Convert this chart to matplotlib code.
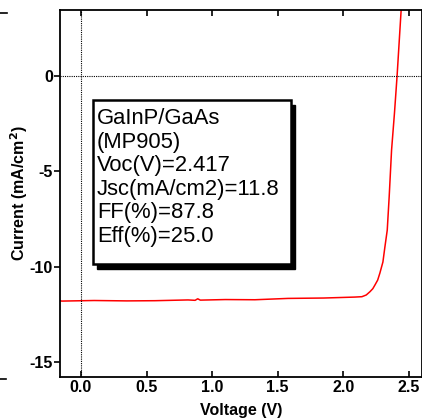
import matplotlib.pyplot as plt
from matplotlib.patches import Rectangle
from matplotlib.lines import Line2D

# J-V curve
voltage = [-0.16, -0.147, 0.10, 0.35, 0.564, 0.816, 0.87, 0.89, 0.91, 1.10, 1.326,
           1.578, 1.85, 2.088, 2.142, 2.175, 2.203, 2.225, 2.241, 2.262, 2.279,
           2.302, 2.317, 2.335, 2.350, 2.368, 2.390, 2.410, 2.441, 2.45]
current = [-11.78, -11.80, -11.77, -11.79, -11.78, -11.74, -11.76, -11.68, -11.75,
           -11.72, -11.73, -11.66, -11.64, -11.59, -11.57, -11.48, -11.31, -11.15,
           -10.96, -10.70, -10.33, -9.75, -8.97, -8.08, -6.30, -3.88, -1.95, 0.0,
           3.46, 4.6]

xticks = [0.0, 0.5, 1.0, 1.5, 2.0, 2.5]
yticks = [0, -5, -10, -15]
info = ['GaInP/GaAs', '(MP905)', 'Voc(V)=2.417', 'Jsc(mA/cm2)=11.8',
        'FF(%)=87.8', 'Eff(%)=25.0']

plt.rcParams['font.family'] = ['Liberation Sans', 'DejaVu Sans']

W, H = 422, 418
fig = plt.figure(figsize=(W / 100, H / 100), dpi=100)
ax = fig.add_axes([60 / W, 41 / H, 1 - 60 / W, (377 - 10) / H])

ax.plot(voltage, current, color='red', lw=1.1)
ax.axvline(0, color='black', lw=0.8, ls=(0, (1, 1)))
ax.axhline(0, color='black', lw=0.8, ls=(0, (1, 1)))

ax.set_xlim(-0.16, 2.60)
ax.set_ylim(-15.78, 3.46)
ax.set_xticks(xticks)
ax.set_xticklabels(['%.1f' % v for v in xticks], fontweight='bold', fontsize=11.5)
ax.set_yticks(yticks)
ax.set_yticklabels([str(v) for v in yticks], fontweight='bold', fontsize=11.5)
ax.tick_params(axis='x', direction='in', top=True, length=4, width=1.2, pad=2)
ax.tick_params(axis='y', direction='out', right=True, length=4, width=1.2, pad=1)
for sp in ax.spines.values():
    sp.set_linewidth(1.3)

ax.set_xlabel('Voltage (V)', fontweight='bold', fontsize=11.5, labelpad=6)
ax.set_ylabel('Current (mA/cm$^\\mathbf{2}$)', fontweight='bold', fontsize=11.5, labelpad=0)

# info box with drop shadow (pixel coords converted to figure fraction)
bx0, by0, bx1, by1 = 92.5, 99.5, 291, 264
fig.patches.append(Rectangle(((bx0 + 4) / W, (H - by1 - 5) / H), (bx1 - bx0) / W,
                             (by1 - by0) / H, transform=fig.transFigure,
                             facecolor='black', edgecolor='black', zorder=5))
fig.patches.append(Rectangle((bx0 / W, (H - by1) / H), (bx1 - bx0) / W,
                             (by1 - by0) / H, transform=fig.transFigure,
                             facecolor='white', edgecolor='black', lw=1.8, zorder=6))
for i, line in enumerate(info):
    fig.text(97 / W, (H - 124 - i * 23.6) / H, line, fontsize=15.8,
             ha='left', va='baseline', zorder=7)

# stray tick marks from the neighbouring panel
fig.lines.append(Line2D([0, 7 / W], [(H - 13) / H] * 2, transform=fig.transFigure,
                        color='black', lw=1.2))
fig.lines.append(Line2D([0, 6 / W], [(H - 379) / H] * 2, transform=fig.transFigure,
                        color='black', lw=1.2))

fig.savefig('out.png', dpi=100)
